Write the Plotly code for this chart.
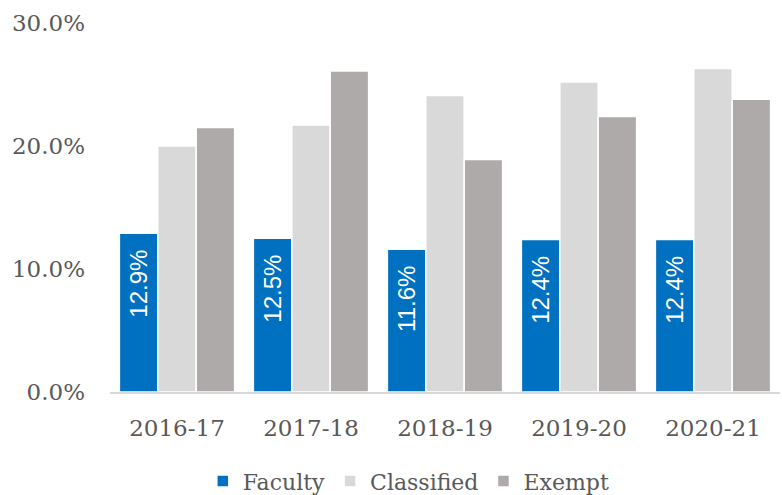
import plotly.graph_objects as go

years = ["2016-17", "2017-18", "2018-19", "2019-20", "2020-21"]
faculty = [12.9, 12.5, 11.6, 12.4, 12.4]
classified = [20.0, 21.7, 24.1, 25.2, 26.3]
exempt = [21.5, 26.1, 18.9, 22.4, 23.8]
y_ticks = [0, 10, 20, 30]
y_tick_labels = ["0.0%", "10.0%", "20.0%", "30.0%"]

TEXT = "#595959"
AXIS_FONT = "DejaVu Serif"
NBSP = "\u00a0"

fig = go.Figure()
fig.add_trace(go.Bar(
    name="Faculty", x=years, y=faculty,
    marker=dict(color="#0070C0", line=dict(color="white", width=1.5)),
    # trailing non-breaking spaces keep the label off the bar's top edge
    text=[f"{v:.1f}%" + NBSP * 2 for v in faculty],
    textposition="inside", insidetextanchor="end", textangle=-90,
    textfont=dict(family="Liberation Sans", size=24, color="white"),
))
fig.add_trace(go.Bar(
    name="Classified", x=years, y=classified,
    marker=dict(color="#D9D9D9", line=dict(color="white", width=1.5)),
))
fig.add_trace(go.Bar(
    name="Exempt", x=years, y=exempt,
    marker=dict(color="#AEAAAA", line=dict(color="white", width=1.5)),
))

fig.update_layout(
    width=782, height=495,
    margin=dict(l=110, r=2, t=23, b=103, autoexpand=False),
    paper_bgcolor="white", plot_bgcolor="white",
    barmode="group", bargap=0.14, bargroupgap=0.0,
    font=dict(family=AXIS_FONT, size=23, color=TEXT),
    showlegend=True,
    legend=dict(
        orientation="h", x=0.446, xanchor="center",
        yref="container", y=0.028, yanchor="middle",
        font=dict(family=AXIS_FONT, size=22, color=TEXT),
        itemwidth=30, traceorder="normal",
    ),
    xaxis=dict(
        showline=True, linecolor="#D9D9D9", linewidth=2,
        ticks="", tickfont=dict(size=23, color=TEXT), ticklabelstandoff=14,
    ),
    yaxis=dict(
        range=[0, 30], tickvals=y_ticks, ticktext=y_tick_labels,
        showgrid=False, zeroline=False, showline=False,
        tickfont=dict(size=23, color=TEXT), ticklabelstandoff=24,
    ),
)

fig.write_html("out.html")
